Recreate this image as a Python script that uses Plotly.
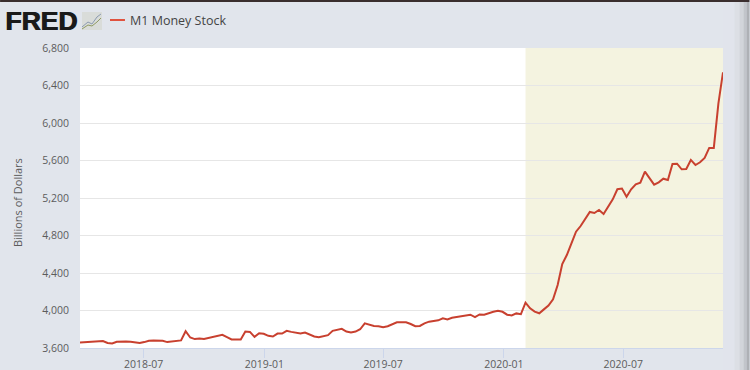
import pandas as pd
import plotly.graph_objects as go

W, H = 750, 370
L, R, T, B = 80, 723.5, 48, 348

series_name = "M1 Money Stock"
y_title = "Billions of Dollars"
start_date = "2018-03-26"
recession_start = "2020-02-03"
y_ticks = [3600, 4000, 4400, 4800, 5200, 5600, 6000, 6400, 6800]
x_ticks = ["2018-07-01", "2019-01-01", "2019-07-01", "2020-01-01", "2020-07-01"]
x_tick_labels = ["2018-07", "2019-01", "2019-07", "2020-01", "2020-07"]

values_2018 = [3660, 3663, 3667, 3663, 3670, 3674, 3653, 3649, 3667, 3670, 3670, 3667, 3656, 3653,
               3663, 3677, 3681, 3677, 3677, 3663, 3670, 3674, 3681, 3779, 3712, 3695, 3702, 3695,
               3705, 3716, 3730, 3740, 3716, 3691, 3691, 3691, 3775, 3772, 3719, 3758, 3751]
values_2019 = [3730, 3723, 3754, 3754, 3783, 3772, 3761, 3754, 3765, 3744, 3723, 3716, 3726, 3737,
               3783, 3790, 3804, 3775, 3765, 3775, 3800, 3863, 3846, 3835, 3832, 3821, 3832, 3853,
               3874, 3874, 3874, 3856, 3832, 3835, 3863, 3881, 3891, 3895, 3916, 3905, 3923, 3933,
               3937, 3951, 3955, 3930, 3958, 3955, 3972, 3986, 3997, 3986, 3955, 3947, 3969, 3961]
values_2020 = [4084, 4023, 3988, 3970, 4012, 4052, 4119, 4272, 4496, 4592, 4717, 4841, 4901, 4983,
               5051, 5040, 5072, 5029, 5108, 5186, 5293, 5300, 5214, 5293, 5346, 5364, 5481, 5410,
               5342, 5367, 5406, 5392, 5563, 5566, 5506, 5510, 5606, 5552, 5581, 5627, 5734, 5734,
               6210, 6541]
values = values_2018 + values_2019 + values_2020
dates = pd.date_range(start_date, periods=len(values), freq="7D")


def px(x):
    return (x - L) / (R - L)


def py(y):
    return (B - y) / (B - T)


BG = "#e1e5ec"
RED = "#c8402f"
TXT = "#5c5c5c"

fig = go.Figure()
fig.add_trace(go.Scatter(x=dates, y=values, mode="lines", name=series_name,
                         line=dict(color=RED, width=2), showlegend=False,
                         hovertemplate="%{x|%Y-%m-%d}: %{y:,}<extra></extra>"))

shapes = [
    dict(type="rect", xref="x", yref="paper", x0=recession_start, x1=dates[-1], y0=0, y1=1,
         fillcolor="#f4f3e0", line_width=0, layer="below"),
    dict(type="rect", xref="paper", yref="paper", x0=px(0), x1=px(750), y0=py(2), y1=py(0),
         fillcolor="#3a2e2e", line_width=0, layer="above"),
    dict(type="line", xref="paper", yref="paper", x0=px(110), x1=px(125), y0=py(20), y1=py(20),
         line=dict(color="#e0523f", width=2), layer="above"),
    # logo tile
    dict(type="rect", xref="paper", yref="paper", x0=px(82), x1=px(102), y0=py(30), y1=py(12),
         fillcolor="#d9dcd9", line_width=0, layer="above"),
    dict(type="path", xref="paper", yref="paper",
         path=f"M {px(82)} {py(27)} L {px(88)} {py(22)} L {px(92)} {py(24)} L {px(97)} {py(17)} L {px(101)} {py(14)}",
         line=dict(color="#8b9ab0", width=1), layer="above"),
    dict(type="path", xref="paper", yref="paper",
         path=f"M {px(82)} {py(29)} L {px(88)} {py(25)} L {px(92)} {py(26)} L {px(97)} {py(22)} L {px(101)} {py(18)}",
         line=dict(color="#8f9a63", width=1), layer="above"),
]
# right-hand shadow, in vertical strips
shadow = [(724, 735, "#e1e4ec"), (735, 740, "#dcdfe5"), (740, 744, "#d2d5da"),
          (744, 747, "#c2c5ca"), (747, 750, "#aeb1b5")]
for x0, x1, c in shadow:
    shapes.append(dict(type="rect", xref="paper", yref="paper", x0=px(x0), x1=px(x1),
                       y0=py(370), y1=py(2), fillcolor=c, line_width=0, layer="below"))

annotations = [
    dict(text="<b>FRED</b>", xref="paper", yref="paper", x=px(3), y=py(21), xanchor="left",
         yanchor="middle", showarrow=False,
         font=dict(family="Liberation Sans", size=26.5, color="#1a1a1a", shadow="1px 0 0 #1a1a1a")),
    dict(text=series_name, xref="paper", yref="paper", x=px(128.5), y=py(20.5), xanchor="left",
         yanchor="middle", showarrow=False, font=dict(family="Open Sans", size=12.5, color="#444444")),
    dict(text=y_title, xref="paper", yref="paper", x=px(18), y=py(203), xanchor="center",
         yanchor="middle", textangle=-90, showarrow=False,
         font=dict(family="Open Sans", size=11, color=TXT)),
]

fig.update_layout(
    template="none",
    width=W, height=H, autosize=False,
    margin=dict(l=L, r=W - R, t=T, b=H - B, pad=0),
    paper_bgcolor=BG, plot_bgcolor="#ffffff",
    shapes=shapes, annotations=annotations,
    font=dict(family="Open Sans", size=10.5, color=TXT),
    xaxis=dict(range=[dates[0], dates[-1]], tickmode="array", tickvals=x_ticks, ticktext=x_tick_labels,
               automargin=False, showgrid=False, zeroline=False, showline=True, linecolor="#ccd6eb",
               linewidth=1, ticks="outside", ticklen=9, tickcolor="#ccd6eb", tickwidth=1,
               ticklabelstandoff=-3, tickfont=dict(color=TXT)),
    yaxis=dict(range=[3600, 6800], tickmode="array", tickvals=y_ticks, automargin=False,
               ticktext=[f"{v:,}" for v in y_ticks], showgrid=True, gridcolor="#e6e6e6", gridwidth=1,
               zeroline=False, showline=False, ticks="outside", ticklen=8, tickcolor="rgba(0,0,0,0)",
               tickfont=dict(color=TXT)),
)
fig.write_html("out.html", config=dict(displayModeBar=False),
               post_script="document.body.style.margin='0';document.body.style.overflow='hidden';")
